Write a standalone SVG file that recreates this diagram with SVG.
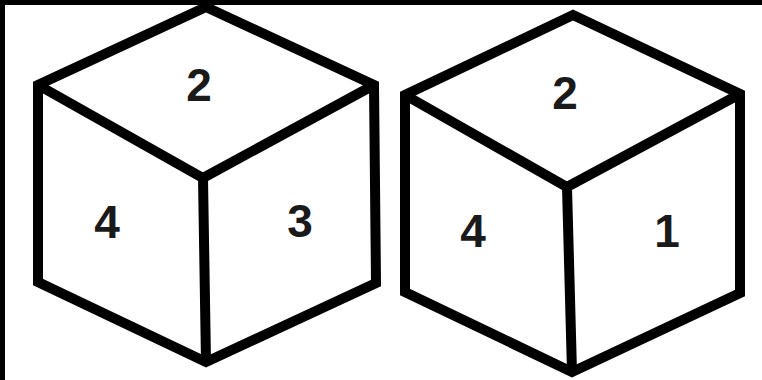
<svg xmlns="http://www.w3.org/2000/svg" width="762" height="380" viewBox="0 0 762 380">
<style>
.edge{fill:none;stroke:#000;stroke-width:10;stroke-linejoin:miter;stroke-linecap:butt}
.lbl{font-family:"Liberation Sans",Arial,sans-serif;font-weight:bold;font-size:46px;fill:#1a1a1a;text-anchor:middle}
</style>
<rect x="0" y="0" width="762" height="380" fill="#fff"/>
<rect x="0" y="0" width="762" height="5" fill="#000"/>
<rect x="0" y="0" width="5" height="380" fill="#000"/>
<g id="cube1">
<path class="edge" d="M206,7 L374,85 L376,283 L206,362 L38,282 L38,85 Z"/>
<path class="edge" d="M38,85 L203,178 L374,85 M203,178 L206,362"/>
<text class="lbl" x="199" y="101">2</text>
<text class="lbl" x="107" y="238">4</text>
<text class="lbl" x="300" y="237">3</text>
</g>
<g id="cube2">
<path class="edge" d="M573,15 L740,94 L740,293 L572,372 L405,292 L405,95 Z"/>
<path class="edge" d="M405,95 L567,187 L740,94 M567,187 L572,372"/>
<text class="lbl" x="565" y="109">2</text>
<text class="lbl" x="473" y="247">4</text>
<text class="lbl" x="667" y="247">1</text>
</g>
</svg>
